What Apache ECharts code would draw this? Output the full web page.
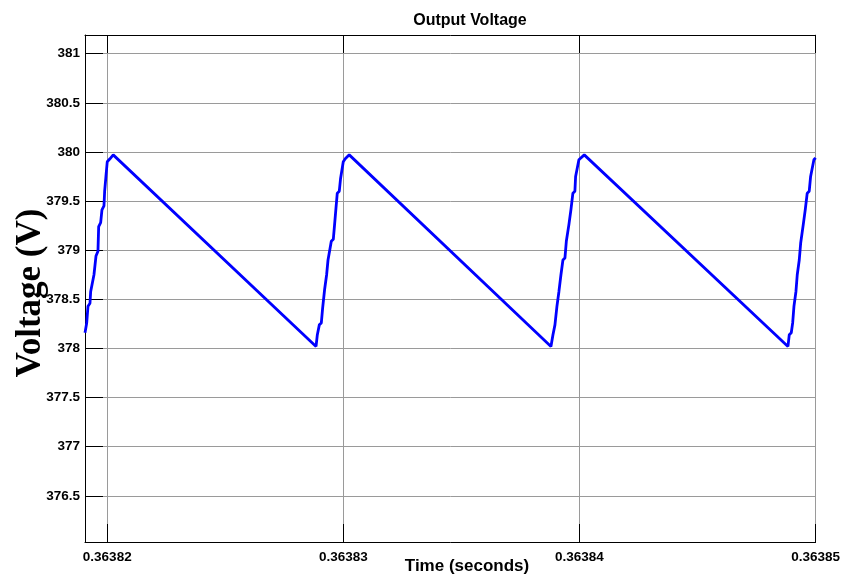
<!DOCTYPE html>
<html>
<head>
<meta charset="utf-8">
<script src="https://cdn.jsdelivr.net/npm/echarts@6/dist/echarts.min.js"></script>
<style>
html,body{margin:0;padding:0;background:#fff;}
#chart{width:843px;height:575px;}
</style>
</head>
<body>
<div id="chart"></div>
<script>
// Time samples (seconds)
var timeS = [
  0.363819058, 0.363819130, 0.363819185, 0.363819269, 0.363819299, 0.363819383, 0.363819438, 0.363819523, 0.363819607,
  0.363819637, 0.363819721, 0.363819776, 0.363819861, 0.363819890, 0.363819945, 0.363820000, 0.363820114, 0.363820253,
  0.363828843, 0.363828898, 0.363828982, 0.363829067, 0.363829122, 0.363829206, 0.363829291, 0.363829350, 0.363829434,
  0.363829489, 0.363829574, 0.363829628, 0.363829688, 0.363829742, 0.363829827, 0.363829882, 0.363829941, 0.363829996,
  0.363830080, 0.363830249,
  0.363838792, 0.363838877, 0.363838961, 0.363839046, 0.363839130, 0.363839215, 0.363839299, 0.363839384, 0.363839443,
  0.363839527, 0.363839552, 0.363839637, 0.363839721, 0.363839806, 0.363839836, 0.363839920, 0.363839975, 0.363840034,
  0.363840203,
  0.363848830, 0.363848885, 0.363848970, 0.363849029, 0.363849084, 0.363849168, 0.363849223, 0.363849308, 0.363849367,
  0.363849451, 0.363849477, 0.363849561, 0.363849645, 0.363849730, 0.363849789, 0.363849873, 0.363849928, 0.363850000
];
// Output voltage (V)
var voltV = [
  378.16, 378.26, 378.43, 378.46, 378.58, 378.60, 378.75, 378.94, 378.99,
  379.24, 379.28, 379.41, 379.45, 379.60, 379.75, 379.90, 379.93, 379.97,
  378.02, 378.14, 378.24, 378.26, 378.41, 378.60, 378.75, 378.90, 378.92,
  379.09, 379.11, 379.26, 379.43, 379.58, 379.60, 379.73, 379.75, 379.90,
  379.93, 379.97,
  378.02, 378.14, 378.24, 378.43, 378.58, 378.75, 378.90, 378.92, 379.09,
  379.11, 379.26, 379.41, 379.58, 379.60, 379.75, 379.77, 379.92, 379.94,
  379.97,
  378.02, 378.14, 378.16, 378.26, 378.43, 378.58, 378.75, 378.90, 379.07,
  379.09, 379.26, 379.41, 379.58, 379.60, 379.75, 379.77, 379.92, 379.94
];
var xTicks = [0.36382, 0.36383, 0.36384, 0.36385];
var yTicks = [376.5, 377, 377.5, 378, 378.5, 379, 379.5, 380, 380.5, 381];

var xMin = 0.363819058, xMax = 0.36385;
var yMin = 376.03, yMax = 381.19;

var data = timeS.map(function (t, i) { return [t, voltV[i]]; });

var chart = echarts.init(document.getElementById('chart'), null, {renderer: 'canvas'});
var labelFont = {fontFamily: '"Liberation Sans", Arial, sans-serif', fontWeight: 'bold', fontSize: 13.5, color: '#000'};

chart.setOption({
  backgroundColor: '#ffffff',
  animation: false,
  grid: {left: 85, right: 26, top: 35, bottom: 33, show: false},
  xAxis: [{
    type: 'value', position: 'bottom', min: xMin, max: xMax,
    axisLine: {show: true, onZero: false, lineStyle: {color: '#000', width: 1}},
    axisTick: {show: true, inside: true, length: 18, customValues: xTicks, lineStyle: {color: '#000', width: 1}},
    axisLabel: Object.assign({show: true, margin: 8, customValues: xTicks, showMinLabel: true, showMaxLabel: true,
      formatter: function (v) { return String(v); }}, labelFont),
    splitLine: {show: true, lineStyle: {color: '#9a9a9a', width: 1}}
  }, {
    type: 'value', position: 'top', min: xMin, max: xMax,
    axisLine: {show: true, onZero: false, lineStyle: {color: '#000', width: 1}},
    axisTick: {show: true, inside: true, length: 18, customValues: xTicks, lineStyle: {color: '#000', width: 1}},
    axisLabel: {show: false},
    splitLine: {show: false}
  }],
  yAxis: [{
    type: 'value', position: 'left', min: yMin, max: yMax,
    axisLine: {show: true, onZero: false, lineStyle: {color: '#000', width: 1}},
    axisTick: {show: true, inside: true, length: 18, customValues: yTicks, lineStyle: {color: '#000', width: 1}},
    axisLabel: Object.assign({show: true, margin: 5, customValues: yTicks, showMinLabel: true, showMaxLabel: true,
      formatter: function (v) { return String(v); }}, labelFont),
    splitLine: {show: true, lineStyle: {color: '#9a9a9a', width: 1}}
  }, {
    type: 'value', position: 'right', min: yMin, max: yMax,
    axisLine: {show: true, onZero: false, lineStyle: {color: '#9a9a9a', width: 1}},
    axisTick: {show: false},
    axisLabel: {show: false},
    splitLine: {show: false}
  }],
  series: [{
    type: 'line',
    xAxisIndex: 0, yAxisIndex: 0,
    data: data,
    showSymbol: false,
    symbol: 'none',
    lineStyle: {color: '#0000ff', width: 2.8},
    clip: true
  }],
  graphic: [
    {type: 'text', x: 470, y: 21, style: {text: 'Output Voltage', font: 'bold 16px "Liberation Sans", Arial, sans-serif', fill: '#000', align: 'center', verticalAlign: 'middle'}},
    {type: 'text', x: 467, y: 566, style: {text: 'Time (seconds)', font: 'bold 17px "Liberation Sans", Arial, sans-serif', fill: '#000', align: 'center', verticalAlign: 'middle'}},
    {type: 'text', x: 31, y: 293, rotation: Math.PI / 2, style: {text: 'Voltage (V)', font: 'bold 35px "Liberation Serif", "Times New Roman", serif', fill: '#000', align: 'center', verticalAlign: 'middle'}}
  ]
});
</script>
</body>
</html>
